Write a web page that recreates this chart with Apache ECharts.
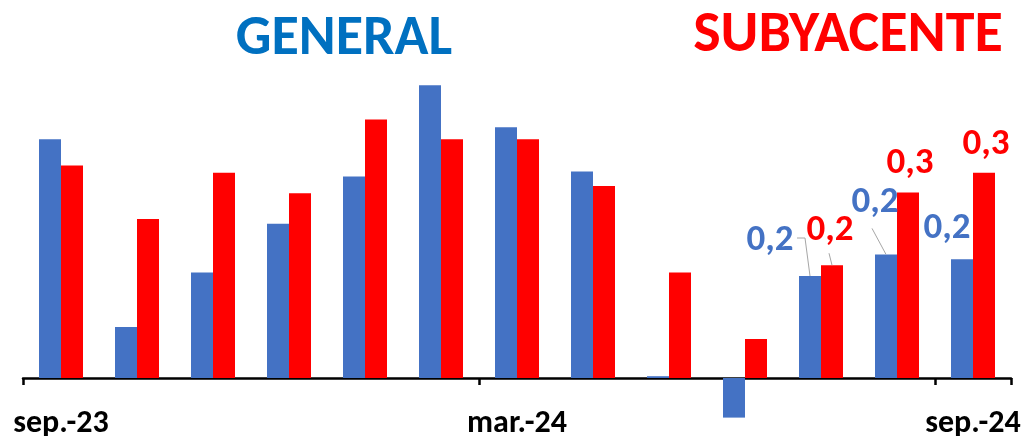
<!DOCTYPE html>
<html>
<head>
<meta charset="utf-8">
<script src="https://cdn.jsdelivr.net/npm/echarts@6/dist/echarts.min.js"></script>
<style>
html,body{margin:0;padding:0;background:#fff;}
#chart{width:1028px;height:436px;}
</style>
</head>
<body>
<div id="chart"></div>
<script>
// Data
const categories = ['sep.-23','oct.-23','nov.-23','dic.-23','ene.-24','feb.-24','mar.-24','abr.-24','may.-24','jun.-24','jul.-24','ago.-24','sep.-24'];
const generalValues = [0.398, 0.085, 0.176, 0.257, 0.336, 0.488, 0.418, 0.344, 0.003, -0.066, 0.170, 0.206, 0.198];
const subyacenteValues = [0.354, 0.265, 0.342, 0.308, 0.431, 0.398, 0.398, 0.320, 0.176, 0.065, 0.188, 0.309, 0.342];
const titleGeneral = 'GENERAL';
const titleSubyacente = 'SUBYACENTE';
const labeledIndexes = [10, 11, 12];

const FONT = "Carlito, 'Open Sans', sans-serif";
const BLUE = '#4472C4';
const RED = '#FF0000';
const BAR_W = 22;

// label offsets (style only)
const blueOffsets = {10: [-40, -12], 11: [-11, -28], 12: [-15, -7]};
const redOffsets = {10: [-2, -11], 11: [2, -5], 12: [2, -5]};
// leader line shapes, relative to the bar's top-centre (style only)
const blueLeaders = {10: [[-13, -38], [-5, -38], [0, 0]], 11: [[-14, -26], [0, 0]]};
const redLeaders = {10: [[-3, -12], [0, 0]]};

function fmt(v) { return v.toFixed(1).replace('.', ','); }

function buildSeriesData(values, color) {
  return values.map((v, i) => {
    const item = { value: v };
    if (labeledIndexes.includes(i)) {
      item.label = {
        show: true, position: 'top', distance: 5,
        formatter: p => fmt(p.value),
        color: color, fontSize: 37, fontWeight: 'bold', fontFamily: FONT
      };
    }
    return item;
  });
}

function layoutFor(offsets) {
  return function (params) {
    const o = offsets[params.dataIndex];
    if (!o) return {};
    return { dx: o[0], dy: o[1] };
  };
}

const chart = echarts.init(document.getElementById('chart'), null, { renderer: 'canvas' });

chart.setOption({
  animation: false,
  backgroundColor: '#fff',
  grid: { left: 23, right: 17, top: 48, bottom: 40, containLabel: false, outerBoundsMode: 'none' },
  xAxis: {
    type: 'category',
    data: categories,
    boundaryGap: true,
    axisLine: { show: true, onZero: true, lineStyle: { color: '#000', width: 2.5 } },
    axisTick: { show: true, interval: 5, alignWithLabel: false, length: 7, lineStyle: { color: '#000', width: 2.5 } },
    axisLabel: { show: true, interval: 5, margin: 12, color: '#000', fontSize: 32, fontWeight: 'bold', fontFamily: FONT },
    splitLine: { show: false }
  },
  yAxis: {
    type: 'value', min: -0.03, max: 0.55, show: false,
    splitLine: { show: false }
  },
  series: [
    {
      name: titleGeneral, type: 'bar', barWidth: BAR_W, barGap: '0%', clip: false,
      itemStyle: { color: BLUE },
      data: buildSeriesData(generalValues, BLUE),
      labelLayout: layoutFor(blueOffsets),
      z: 2
    },
    {
      name: titleSubyacente, type: 'bar', barWidth: BAR_W, barGap: '0%', clip: false,
      itemStyle: { color: RED },
      data: buildSeriesData(subyacenteValues, RED),
      labelLayout: layoutFor(redOffsets),
      z: 2
    }
  ]
});

// leader lines anchored on bar tops computed through the chart's own scales
const graphics = [
  { type: 'text', x: 344, y: 40,
    style: { text: titleGeneral, fill: '#0070C0', font: 'bold 56px ' + FONT, textAlign: 'center', textVerticalAlign: 'middle' } },
  { type: 'text', x: 848, y: 36,
    style: { text: titleSubyacente, fill: RED, font: 'bold 58px ' + FONT, textAlign: 'center', textVerticalAlign: 'middle' } }
];
function addLeaders(leaders, values, seriesIndex, side) {
  Object.keys(leaders).forEach(k => {
    const i = +k;
    const p = chart.convertToPixel({ seriesIndex: seriesIndex }, [i, values[i]]);
    const ax = p[0] + side * BAR_W / 2, ay = p[1];
    graphics.push({
      type: 'polyline', silent: true, z: 5,
      shape: { points: leaders[k].map(d => [ax + d[0], ay + d[1]]) },
      style: { stroke: '#A6A6A6', lineWidth: 1, fill: null }
    });
  });
}
addLeaders(blueLeaders, generalValues, 0, -1);
addLeaders(redLeaders, subyacenteValues, 1, 1);
chart.setOption({ graphic: graphics });
</script>
</body>
</html>
